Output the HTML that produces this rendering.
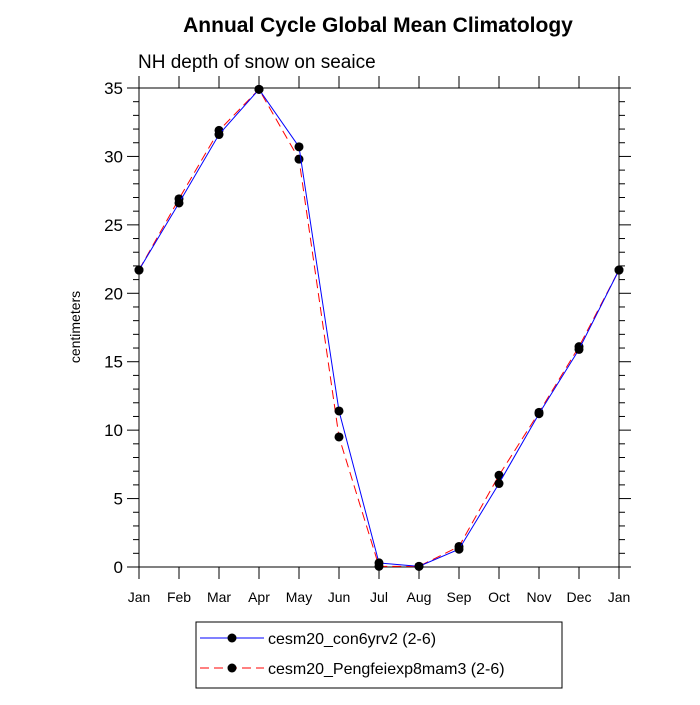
<!DOCTYPE html>
<html><head><meta charset="utf-8"><style>
body{margin:0;background:#fff}
svg text{font-family:"Liberation Sans",sans-serif}
</style></head><body>
<svg id="c" width="700" height="700" xmlns="http://www.w3.org/2000/svg">
<text x="378" y="32" text-anchor="middle" font-size="21" font-weight="bold">Annual Cycle Global Mean Climatology</text>
<text x="138" y="68" font-size="19">NH depth of snow on seaice</text>
<text transform="translate(80,327) rotate(-90)" text-anchor="middle" font-size="14">centimeters</text>
<g id="axes"></g>
<g id="series"></g>
<g>
<rect x="196" y="622" width="366" height="66" fill="#fff" stroke="#000" stroke-width="1"/>
<line x1="200" y1="638" x2="264" y2="638" stroke="#00f" stroke-width="1"/>
<circle cx="232" cy="638" r="4.5" fill="#000"/>
<text x="268" y="644" font-size="16">cesm20_con6yrv2 (2-6)</text>
<line x1="200" y1="668" x2="264" y2="668" stroke="#f00" stroke-width="1" stroke-dasharray="9,5"/>
<circle cx="232" cy="668" r="4.5" fill="#000"/>
<text x="268" y="674" font-size="16">cesm20_Pengfeiexp8mam3 (2-6)</text>
</g>
</svg>
<script>
const months=["Jan","Feb","Mar","Apr","May","Jun","Jul","Aug","Sep","Oct","Nov","Dec","Jan"];
const seriesA=[21.7,26.6,31.6,34.9,30.7,11.4,0.3,0.05,1.3,6.1,11.2,15.9,21.7];
const seriesB=[21.7,26.9,31.9,34.9,29.8,9.5,0.05,0.05,1.5,6.7,11.3,16.1,21.7];
const yTicks=[0,5,10,15,20,25,30,35];
const X0=139,X1=619,Y0=567,Y1=88,YMAX=35;
const xs=i=>X0+(X1-X0)*i/(months.length-1);
const ys=v=>Y0-(Y0-Y1)*v/YMAX;
const NS="http://www.w3.org/2000/svg";
function mk(t,a,p){const e=document.createElementNS(NS,t);for(const k in a)e.setAttribute(k,a[k]);p.appendChild(e);return e;}
const ax=document.getElementById('axes');
const fr=mk('rect',{x:X0,y:Y1,width:X1-X0,height:Y0-Y1,fill:'none',stroke:'#000','stroke-width':1},ax);


months.forEach((m,i)=>{const x=xs(i);
mk('line',{x1:x,y1:Y0,x2:x,y2:Y0+12,stroke:'#000'},ax);
mk('line',{x1:x,y1:Y1,x2:x,y2:Y1-12,stroke:'#000'},ax);
const t=mk('text',{x:x,y:Y0+35,'text-anchor':'middle','font-size':14},ax);t.textContent=m;

});
yTicks.forEach(v=>{const y=ys(v);
mk('line',{x1:X0,y1:y,x2:X0-12,y2:y,stroke:'#000'},ax);
mk('line',{x1:X1,y1:y,x2:X1+12,y2:y,stroke:'#000'},ax);
const t=mk('text',{x:X0-16,y:y+6,'text-anchor':'end','font-size':17},ax);t.textContent=v;

});
for(let v=1;v<YMAX;v++){if(v%5===0)continue;const y=ys(v);
mk('line',{x1:X0,y1:y,x2:X0-6,y2:y,stroke:'#000'},ax);
mk('line',{x1:X1,y1:y,x2:X1+6,y2:y,stroke:'#000'},ax);}
const sg=document.getElementById('series');
function draw(d,col,dash,name){
const pl=mk('polyline',{points:d.map((v,i)=>xs(i)+','+ys(v)).join(' '),fill:'none',stroke:col,'stroke-width':1,'stroke-dasharray':dash},sg);


d.forEach((v,i)=>{const c=mk('circle',{cx:xs(i),cy:ys(v),r:4.5,fill:'#000'},sg);

});}
draw(seriesB,'#f00','9,5','pengfeiexp8mam3');
draw(seriesA,'#00f','none','con6yrv2');
</script>
</body></html>
